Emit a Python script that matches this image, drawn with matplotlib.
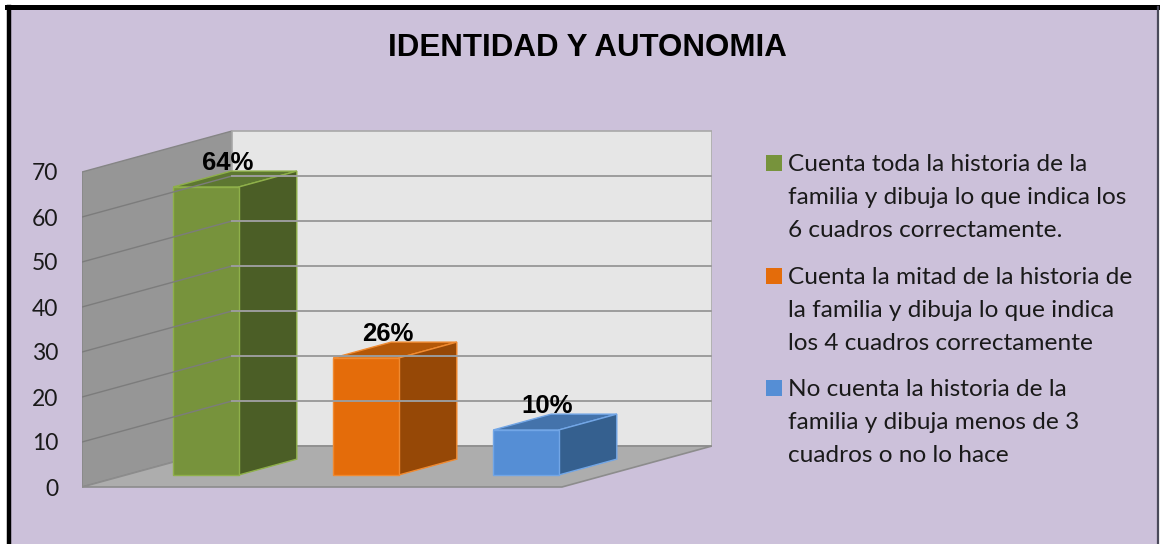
import matplotlib
matplotlib.use("Agg")
import matplotlib.pyplot as plt
from matplotlib.patches import Polygon, Rectangle
from matplotlib.lines import Line2D

# ---- data ----
title = "IDENTIDAD Y AUTONOMIA"
categories = [
    "Cuenta toda la historia de la\nfamilia y dibuja lo que indica los\n6 cuadros correctamente.",
    "Cuenta la mitad de la historia de\nla familia y dibuja lo que indica\nlos 4 cuadros correctamente",
    "No cuenta la historia de la\nfamilia y dibuja menos de 3\ncuadros o no lo hace",
]
values = [64, 26, 10]
value_labels = ["64%", "26%", "10%"]
yticks = [0, 10, 20, 30, 40, 50, 60, 70]

# ---- styles ----
front_cols = ["#77933c", "#e46c0a", "#558ed5"]
side_cols = ["#4b5e26", "#964806", "#35608f"]
top_cols = ["#5d7731", "#b45808", "#4473ab"]
edge_cols = ["#8fb04a", "#f08a30", "#72a6e6"]
bg = "#ccc1da"

W, H, DPI = 1160, 544, 100
fig = plt.figure(figsize=(W / DPI, H / DPI), dpi=DPI)
fig.patch.set_facecolor("white")

def fx(px):
    return px / W
def fy(py):
    return 1 - py / H

fig.add_artist(Rectangle((fx(9), 0), fx(1157) - fx(9), fy(6.5), transform=fig.transFigure,
                         facecolor=bg, edgecolor="none", zorder=0))
fig.add_artist(Line2D([fx(9), fx(9)], [0, fy(6.5)], transform=fig.transFigure, color="black", lw=3.2, zorder=1))
fig.add_artist(Line2D([fx(7), fx(1158)], [fy(6.5), fy(6.5)], transform=fig.transFigure, color="black", lw=3.6, zorder=1))
fig.add_artist(Line2D([fx(1157.5), fx(1157.5)], [0, fy(6.5)], transform=fig.transFigure, color="#4a4a5a", lw=1.6, zorder=1))

# ---- axes geometry ----
n = len(values)
px_per_cat = 160.0
px_per_val = 4.5
depth_px_x, depth_px_y = 150.0, 41.0
Dx = depth_px_x / px_per_cat
Dy = depth_px_y / px_per_val
x0_px, y0_px = 82.0, 487.0
ymin, ymax = -3, 82
xmin, xmax = -0.5, n - 0.5 + Dx

ax_w = (xmax - xmin) * px_per_cat
ax_bottom_py = y0_px - ymin * px_per_val
ax_h = (ymax - ymin) * px_per_val
ax = fig.add_axes([fx(x0_px), fy(ax_bottom_py), ax_w / W, ax_h / H])
ax.set_xlim(xmin, xmax)
ax.set_ylim(ymin, ymax)
ax.patch.set_alpha(0)
for s in ax.spines.values():
    s.set_visible(False)
ax.set_xticks([])
ax.set_yticks(yticks)
ax.set_yticklabels([str(t) for t in yticks], fontfamily="Lato", fontsize=16.5, color="#1a1a1a")
ax.tick_params(axis="y", length=0, pad=17)

ytop = yticks[-1]

def P(x, y, z):
    return (x + z * Dx, y + z * Dy)

# left wall
ax.add_patch(Polygon([P(-0.5, 0, 0), P(-0.5, ytop, 0), P(-0.5, ytop, 1), P(-0.5, 0, 1)],
                     closed=True, facecolor="#969696", edgecolor="#858585", lw=1.0))
# back wall
ax.add_patch(Polygon([P(-0.5, 0, 1), P(n - 0.5, 0, 1), P(n - 0.5, ytop, 1), P(-0.5, ytop, 1)],
                     closed=True, facecolor="#e6e6e6", edgecolor="#a8a8a8", lw=1.2))
for v in yticks[1:-1]:
    xa, ya = P(-0.5, v, 0)
    xb, yb = P(-0.5, v, 1)
    ax.plot([xa, xb], [ya, yb], color="#7c7c7c", lw=1.0)
    xc, yc = P(n - 0.5, v, 1)
    ax.plot([xb, xc], [yb, yc], color="#9c9c9c", lw=1.4)
# floor
ax.add_patch(Polygon([P(-0.5, 0, 0), P(n - 0.5, 0, 0), P(n - 0.5, 0, 1), P(-0.5, 0, 1)],
                     closed=True, facecolor="#adadad", edgecolor="#8c8c8c", lw=1.2))

# bars
hw, z0, z1 = 0.205, 0.293, 0.68
for i, v in enumerate(values):
    c = i
    top = [P(c - hw, v, z0), P(c + hw, v, z0), P(c + hw, v, z1), P(c - hw, v, z1)]
    side = [P(c + hw, 0, z0), P(c + hw, v, z0), P(c + hw, v, z1), P(c + hw, 0, z1)]
    front = [P(c - hw, 0, z0), P(c + hw, 0, z0), P(c + hw, v, z0), P(c - hw, v, z0)]
    ax.add_patch(Polygon(top, closed=True, facecolor=top_cols[i], edgecolor=edge_cols[i], lw=1.0))
    ax.add_patch(Polygon(side, closed=True, facecolor=side_cols[i], edgecolor=edge_cols[i], lw=1.0))
    ax.add_patch(Polygon(front, closed=True, facecolor=front_cols[i], edgecolor=edge_cols[i], lw=1.0))
    lx, ly = P(c + 0.41 - z1 * Dx, v, z1)
    ax.text(lx, ly + 0.3, value_labels[i], ha="center", va="baseline",
            fontfamily="Liberation Sans", fontweight="bold", fontsize=18.5, color="black")

# title
fig.text(fx(587), fy(48), title, ha="center", va="center",
         fontfamily="Liberation Sans", fontweight="bold", fontsize=22.5, color="black")

# legend (manual, first line aligned with square)
leg_x_sq, leg_x_txt = 766, 788
entry_y = [163, 276, 388]
line_h = 32.5
for i, lab in enumerate(categories):
    y = entry_y[i]
    fig.add_artist(Rectangle((fx(leg_x_sq), fy(y + 8)), 16 / W, 16 / H, transform=fig.transFigure,
                             facecolor=front_cols[i], edgecolor="none"))
    for k, line in enumerate(lab.split("\n")):
        fig.text(fx(leg_x_txt), fy(y + k * line_h), line, ha="left", va="center_baseline",
                 fontfamily="Lato", fontsize=17.6, color="#1a1a1a")

fig.savefig("out.png", dpi=DPI, facecolor="white")
